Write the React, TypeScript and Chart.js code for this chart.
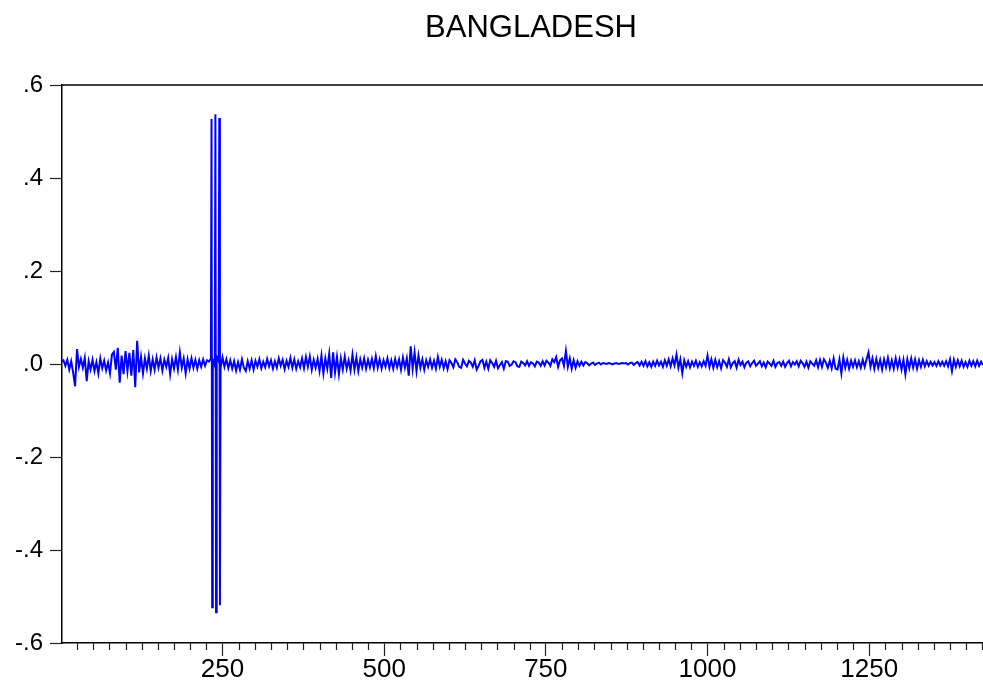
import React, { useEffect, useRef } from 'react';
import { Chart, registerables } from 'chart.js';

Chart.register(...registerables);

const TITLE = 'BANGLADESH';
const FIRST_OBS = 1;
const OBS_STEP = 3;
const LAST_OBS = 1426;

const returns = [
  .005, .008, -.004, .009, -.012, .006, -.018, -.048, .032, -.006,
  .011, -.008, .013, -.037, .006, -.012, .009, -.015, .004, -.02,
  .012, -.009, .007, -.014, .003, -.02, .02, .026, -.012, .035,
  -.04, .018, -.022, .028, -.015, .024, -.025, .03, -.05, .05,
  -.018, .015, -.02, .012, -.01, .018, -.015, .01, -.012, .014,
  -.008, .012, -.014, .009, -.006, .013, -.022, .01, -.01, .015,
  -.012, .025, -.008, .012, -.02, .01, -.01, .012, -.008, .009,
  -.01, .008, -.006, .01, -.004, .008, .005, .012, .008, -.004,
  .015, .006, -.008, .014, -.006, .01, -.009, .008, -.01, .006,
  -.014, .004, -.012, .01, -.008, -.015, .006, -.01, .008, -.012,
  .007, -.006, .01, -.009, .005, -.007, .011, -.005, .008, -.01,
  .006, -.008, .012, -.004, .009, -.011, .007, -.006, .013, -.008,
  .01, -.01, .006, -.007, .012, -.009, .015, -.006, .016, -.012,
  .009, -.008, .011, -.015, .018, -.02, .012, -.01, .022, -.03,
  .025, -.018, .015, -.022, .012, -.012, .016, -.01, .008, -.014,
  .02, -.012, .014, -.015, .01, -.008, .012, -.01, .009, -.007,
  .011, -.009, .017, -.008, .01, -.01, .008, -.006, .012, -.009,
  .008, -.01, .011, -.007, .01, -.012, .014, -.008, .012, -.025,
  .038, -.01, .025, -.015, .018, -.008, .01, -.012, .008, -.006,
  .01, -.008, .007, -.01, .015, -.006, .009, -.009, .006, -.011,
  .008, .002, -.007, .01, .004, -.006, -.008, .009, .001, -.005,
  .007, .003, -.006, .008, -.012, -.004, .006, .009, -.008, .005,
  -.01, .008, .002, -.006, .007, -.009, -.002, .004, -.01, .006,
  .005, -.004, -.001, .006, .004, -.005, -.006, .005, .002, -.003,
  .006, -.004, .004, .001, -.005, .005, .003, -.004, .006, -.003,
  .007, .003, -.004, .01, .004, .015, -.006, .008, .012, -.004,
  .028, -.006, .012, -.01, .008, -.008, .006, -.004, .005, -.003,
  .004, .002, -.003, .001, .003, -.002, .001, .003, -.001, .002,
  .001, 0, .002, .001, -.001, .001, .002, 0, .001, .002,
  .001, .002, -.001, .002, .003, -.002, .002, .004, -.003, .005,
  -.004, .006, -.005, .004, -.006, .005, -.004, .007, -.003, .005,
  -.006, .008, -.004, .01, -.005, .012, -.003, .02, -.008, .01,
  -.02, .008, -.006, .006, -.007, .005, -.004, .007, -.006, .004,
  -.005, .006, -.004, .018, -.006, .01, -.008, .009, -.007, .006,
  -.009, .008, .003, -.006, .01, -.007, .002, .006, -.008, .009,
  -.002, .005, -.007, .003, .006, -.005, .002, .007, -.004, .001,
  .006, -.005, .003, -.007, .005, .001, -.004, .007, -.006, .002,
  .004, -.004, .005, -.006, .002, .007, -.005, .004, -.001, .006,
  -.005, .007, .002, -.006, .005, -.008, .006, .001, -.004, .008,
  -.007, .009, -.006, .01, .003, -.008, .007, -.009, .012, -.01,
  -.012, .01, -.02, .014, -.008, .009, -.01, .007, -.006, .008,
  -.007, .006, -.008, .009, -.006, .01, .025, -.006, .012, -.01,
  .011, -.008, .009, -.012, .01, -.007, .013, -.009, .008, -.01,
  .012, -.008, .01, -.012, .009, -.022, .01, -.009, .012, -.008,
  .01, -.01, .008, -.006, .009, -.005, .006, -.004, .005, -.003,
  .004, -.004, .006, -.003, .005, -.004, .006, -.005, .01, -.015,
  .009, -.006, .008, -.005, .007, -.006, .004, -.006, .007, -.004,
  .006, -.005, .007, -.004, .005, -.002,
];

// the three outliers (observation numbers and values)
const spikeObs = [233, 234, 239, 240, 245, 246];
const spikeReturns = [0.527, -0.523, 0.537, -0.534, 0.529, -0.519];

const xMajorTicks = [250, 500, 750, 1000, 1250];
const xMinorStep = 25;
const yTickValues = [-0.6, -0.4, -0.2, 0, 0.2, 0.4, 0.6];
const yTickLabels = ['-.6', '-.4', '-.2', '.0', '.2', '.4', '.6'];

const FONT = "'Liberation Sans', Arial, Helvetica, sans-serif";

export default function App() {
  const canvasRef = useRef<HTMLCanvasElement | null>(null);

  useEffect(() => {
    document.body.style.margin = '0';
    const canvas = canvasRef.current;
    if (!canvas) return;

    const base = returns.map((v, i) => ({ x: FIRST_OBS + i * OBS_STEP, y: v }));
    const spikes = spikeObs.map((x, k) => ({ x, y: spikeReturns[k] }));
    const points = [...base, ...spikes].sort((a, b) => a.x - b.x);

    const framePlugin = {
      id: 'frameAndTitle',
      afterDraw(chart: any) {
        const { ctx, chartArea } = chart;
        const xs = chart.scales.x;
        ctx.save();
        // top frame line
        ctx.strokeStyle = '#000';
        ctx.lineWidth = 1.5;
        ctx.beginPath();
        ctx.moveTo(chartArea.left, chartArea.top);
        ctx.lineTo(chartArea.right + 2, chartArea.top);
        ctx.stroke();
        // minor ticks
        ctx.lineWidth = 1.2;
        ctx.strokeStyle = '#222';
        for (let v = xMinorStep; v <= LAST_OBS; v += xMinorStep) {
          if (xMajorTicks.includes(v)) continue;
          const px = Math.round(xs.getPixelForValue(v)) + 0.5;
          ctx.beginPath();
          ctx.moveTo(px, chartArea.bottom);
          ctx.lineTo(px, chartArea.bottom + 7);
          ctx.stroke();
        }
        // title
        ctx.fillStyle = '#000';
        ctx.font = `31px ${FONT}`;
        ctx.textAlign = 'center';
        ctx.textBaseline = 'alphabetic';
        ctx.fillText(TITLE, 531, 37);
        ctx.restore();
      },
    };

    const chart = new Chart(canvas, {
      type: 'line',
      data: {
        datasets: [
          {
            data: points,
            borderColor: '#0000ff',
            borderWidth: 2,
            pointRadius: 0,
            tension: 0,
            fill: false,
          },
        ],
      },
      options: {
        animation: false,
        responsive: false,
        devicePixelRatio: 1,
        events: [],
        layout: { padding: { top: 85, left: 0, right: 0, bottom: 0 } },
        plugins: {
          legend: { display: false },
          tooltip: { enabled: false },
          title: { display: false },
        },
        scales: {
          x: {
            type: 'linear',
            min: FIRST_OBS,
            max: LAST_OBS,
            afterBuildTicks: (s: any) => {
              s.ticks = xMajorTicks.map((v) => ({ value: v }));
            },
            afterFit: (s: any) => {
              s.height = 42;
            },
            ticks: {
              autoSkip: false,
              maxRotation: 0,
              color: '#000',
              padding: 1,
              font: { family: FONT, size: 26, lineHeight: 1 },
              callback: (v: any) => String(v),
            },
            grid: {
              drawOnChartArea: false,
              drawTicks: true,
              tickLength: 13,
              tickColor: '#222',
              tickWidth: 1.2,
            },
            border: { display: true, color: '#000', width: 1.5 },
          },
          y: {
            type: 'linear',
            min: -0.6,
            max: 0.6,
            afterBuildTicks: (s: any) => {
              s.ticks = yTickValues.map((v) => ({ value: v }));
            },
            afterFit: (s: any) => {
              s.width = 61.5;
            },
            ticks: {
              color: '#000',
              padding: 7,
              font: { family: FONT, size: 24 },
              callback: (v: any) => {
                const k = yTickValues.indexOf(v);
                return k >= 0 ? yTickLabels[k] : '';
              },
            },
            grid: {
              drawOnChartArea: false,
              drawTicks: true,
              tickLength: 11.5,
              tickColor: '#222',
              tickWidth: 1.2,
            },
            border: { display: true, color: '#000', width: 1.5 },
          },
        },
      },
      plugins: [framePlugin],
    });

    return () => {
      chart.destroy();
    };
  }, []);

  return (
    <canvas
      ref={canvasRef}
      width={983}
      height={685}
      style={{ display: 'block', width: 983, height: 685 }}
    />
  );
}
